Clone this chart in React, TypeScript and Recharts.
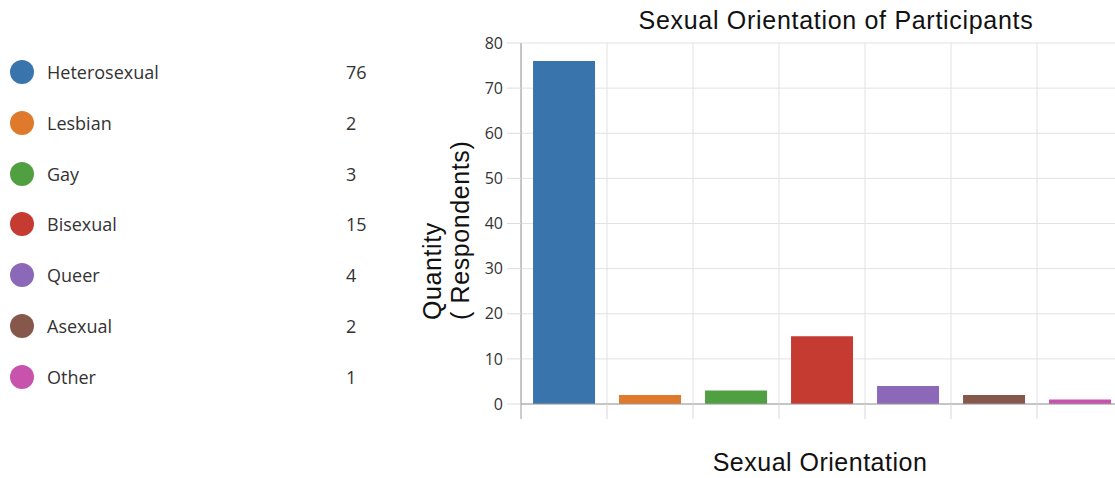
import React from "react";
import { BarChart, Bar, XAxis, YAxis, CartesianGrid, Cell } from "recharts";

// data
const categories = ["Heterosexual", "Lesbian", "Gay", "Bisexual", "Queer", "Asexual", "Other"];
const counts = [76, 2, 3, 15, 4, 2, 1];
const colors = ["#3a74ad", "#df7a2d", "#50a042", "#c53a31", "#8c68b9", "#86584b", "#c753ad"];
const yTicks = [0, 10, 20, 30, 40, 50, 60, 70, 80];

const chartData = categories.map((name, i) => ({ name, value: counts[i] }));

const textFont = "'Liberation Sans', Arial, Helvetica, sans-serif";

// vertical grid lines sit on the category boundaries, not the centres
const boundaryLines = ({ offset }: any) =>
  Array.from({ length: categories.length + 1 }, (_, t) => offset.left + (t * offset.width) / categories.length);

// x ticks: a short line at the left edge of each category band
const BoundaryTick = (props: any) => {
  const { x, y, payload, index } = props;
  const half = payload && payload.offset ? payload.offset : 43;
  const bx = x - half;
  return (
    <line
      x1={bx}
      x2={bx}
      y1={y}
      y2={y + 15}
      stroke={index === 0 ? "#9a9a9a" : "#d8d8d8"}
    />
  );
};

export default function App() {
  return (
    <div
      style={{
        position: "absolute",
        left: 0,
        top: 0,
        width: 1115,
        height: 478,
        overflow: "hidden",
        background: "#fff",
      }}
    >
      {/* legend */}
      {categories.map((name, i) => (
        <div
          key={name}
          style={{
            position: "absolute",
            left: 0,
            top: 72 + i * 50.8 - 13,
            height: 26,
            width: 400,
            fontFamily: "'Open Sans', sans-serif",
            fontSize: 18,
            color: "#333",
            lineHeight: "26px",
          }}
        >
          <span
            style={{
              position: "absolute",
              left: 10,
              top: 1,
              width: 24,
              height: 24,
              borderRadius: 12,
              background: colors[i],
            }}
          />
          <span style={{ position: "absolute", left: 47, top: 0 }}>{name}</span>
          <span style={{ position: "absolute", left: 346, top: 0 }}>{counts[i]}</span>
        </div>
      ))}

      <div style={{ position: "absolute", left: 400, top: 0 }}>
        <BarChart
          width={730}
          height={478}
          data={chartData}
          margin={{ top: 43, right: 7, bottom: 59, left: 0 }}
          barCategoryGap="14%"
        >
          <CartesianGrid stroke="#e2e2e2" verticalCoordinatesGenerator={boundaryLines} />
          <XAxis
            dataKey="name"
            interval={0}
            height={15}
            tickSize={0}
            tickMargin={0}
            tickLine={false}
            tick={BoundaryTick}
            axisLine={{ stroke: "#9a9a9a" }}
          />
          <YAxis
            width={121}
            domain={[0, 80]}
            ticks={yTicks}
            interval={0}
            tickSize={14}
            tickMargin={4}
            tickLine={{ stroke: "#dcdcdc" }}
            axisLine={{ stroke: "#9a9a9a" }}
            tick={{ fill: "#333", fontSize: 16, fontFamily: "'Open Sans', sans-serif" }}
          />
          <Bar dataKey="value" isAnimationActive={false}>
            {chartData.map((d, i) => (
              <Cell key={d.name} fill={colors[i]} />
            ))}
          </Bar>
        </BarChart>
      </div>

      {/* titles */}
      <svg
        width={1115}
        height={478}
        style={{ position: "absolute", left: 0, top: 0, pointerEvents: "none" }}
      >
        <text x={836} y={29} textAnchor="middle" fontSize={25} letterSpacing={0.7} fontFamily={textFont} fill="#111">
          Sexual Orientation of Participants
        </text>
        <text x={820} y={471} textAnchor="middle" fontSize={25} letterSpacing={0.5} fontFamily={textFont} fill="#111">
          Sexual Orientation
        </text>
        <text
          transform="translate(441,320) rotate(-90)"
          textAnchor="start"
          fontSize={25}
          letterSpacing={0.6}
          fontFamily={textFont}
          fill="#111"
        >
          Quantity
        </text>
        <text
          transform="translate(469,320) rotate(-90)"
          textAnchor="start"
          fontSize={25}
          letterSpacing={0.6}
          fontFamily={textFont}
          fill="#111"
        >
          ( Respondents)
        </text>
      </svg>
    </div>
  );
}
